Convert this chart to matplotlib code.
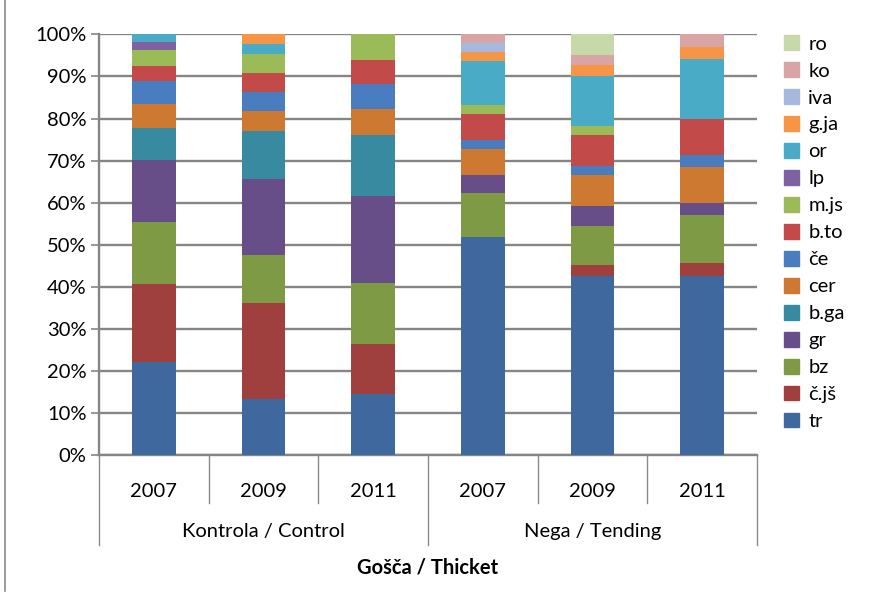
import matplotlib.pyplot as plt
import numpy as np
from matplotlib.patches import Patch
from matplotlib.transforms import blended_transform_factory

plt.rcParams['font.family'] = ['Lato', 'DejaVu Sans']

years = ["2007", "2009", "2011", "2007", "2009", "2011"]
groups = ["Kontrola / Control", "Nega / Tending"]

species = ["tr", "č.jš", "bz", "gr", "b.ga", "cer", "če", "b.to",
           "m.js", "lp", "or", "g.ja", "iva", "ko", "ro"]
colors = ["#3f699e", "#9f403e", "#7e9a44", "#674e88", "#388aa1", "#cd7932",
          "#4a7dc0", "#c24b4a", "#9bbb58", "#7d61a2", "#4aabc6", "#f69545",
          "#a6b8dd", "#d9a5a4", "#c7d9a9"]

# share (%) of each species per bar
tr = [22.1, 13.4, 14.6, 51.9, 42.6, 42.6]
cjs = [18.5, 22.7, 11.8, 0.0, 2.5, 3.0]
bz = [14.9, 11.5, 14.6, 10.5, 9.4, 11.5]
gr = [14.6, 18.1, 20.6, 4.2, 4.8, 2.8]
bga = [7.7, 11.3, 14.6, 0.0, 0.0, 0.0]
cer = [5.6, 4.7, 6.1, 6.2, 7.3, 8.7]
ce = [5.4, 4.6, 5.9, 2.1, 2.2, 2.7]
bto = [3.7, 4.5, 5.8, 6.2, 7.2, 8.5]
mjs = [3.7, 4.6, 6.0, 2.1, 2.2, 0.0]
lp = [1.9, 0.0, 0.0, 0.0, 0.0, 0.0]
orr = [1.9, 2.3, 0.0, 10.5, 12.0, 14.3]
gja = [0.0, 2.3, 0.0, 2.0, 2.5, 3.0]
iva = [0.0, 0.0, 0.0, 2.2, 0.0, 0.0]
ko = [0.0, 0.0, 0.0, 2.1, 2.4, 2.9]
ro = [0.0, 0.0, 0.0, 0.0, 4.9, 0.0]

series = [tr, cjs, bz, gr, bga, cer, ce, bto, mjs, lp, orr, gja, iva, ko, ro]

fig = plt.figure(figsize=(8.69, 6.03), dpi=100)
ax = fig.add_axes([0.1139, 0.2449, 0.7572, 0.6982])

x = np.arange(len(years))
bottom = np.zeros(len(years))
for name, vals, c in zip(species, series, colors):
    vals = np.array(vals)
    ax.bar(x, vals, 0.4, bottom=bottom, color=c, label=name, zorder=3)
    bottom += vals

ax.set_xlim(-0.5, len(years) - 0.5)
ax.set_ylim(0, 100)
ax.set_yticks(np.arange(0, 101, 10))
ax.set_yticklabels([f"{v}%" for v in range(0, 101, 10)], fontsize=14.5)
ax.set_xticks([])
ax.yaxis.grid(True, color="#858585", lw=1.7, zorder=0)
ax.tick_params(axis="y", length=6, width=1.2, color="#858585", pad=3)
for s in ["top", "right"]:
    ax.spines[s].set_visible(False)
for s in ["left", "bottom"]:
    ax.spines[s].set_color("#858585")
    ax.spines[s].set_linewidth(1.7)

# two-level category axis below the bars
tr_x = blended_transform_factory(ax.transData, ax.transAxes)
line_kw = dict(color="#8a8a8a", lw=1.0, transform=tr_x, clip_on=False)
for b in [0.5, 1.5, 3.5, 4.5]:
    ax.plot([b, b], [0, -0.114], **line_kw)
for b in [-0.5, 2.5, 5.5]:
    ax.plot([b, b], [0, -0.214], **line_kw)
for xi, yr in zip(x, years):
    ax.text(xi, -0.085, yr, transform=tr_x, ha="center", va="center",
            fontsize=14.5)
for gi, g in enumerate(groups):
    ax.text(gi * 3 + 1, -0.182, g, transform=tr_x, ha="center",
            va="center", fontsize=14.5)
ax.text(0.5, -0.266, "Gošča / Thicket", transform=ax.transAxes,
        ha="center", va="center", fontsize=14.5, fontweight="bold")

handles = [Patch(color=c) for c in colors][::-1]
fig.legend(handles, species[::-1], loc="upper left",
           bbox_to_anchor=(0.893, 0.955), frameon=False, fontsize=14.5,
           handlelength=0.75, handleheight=0.75, handletextpad=0.45,
           labelspacing=0.475, borderaxespad=0)

# frame line at the left edge
fig.add_artist(plt.Line2D([0.006, 0.006], [0.02, 1.0], color="#8a8a8a",
                          lw=1.2, transform=fig.transFigure))

fig.savefig("out.png", dpi=100)
